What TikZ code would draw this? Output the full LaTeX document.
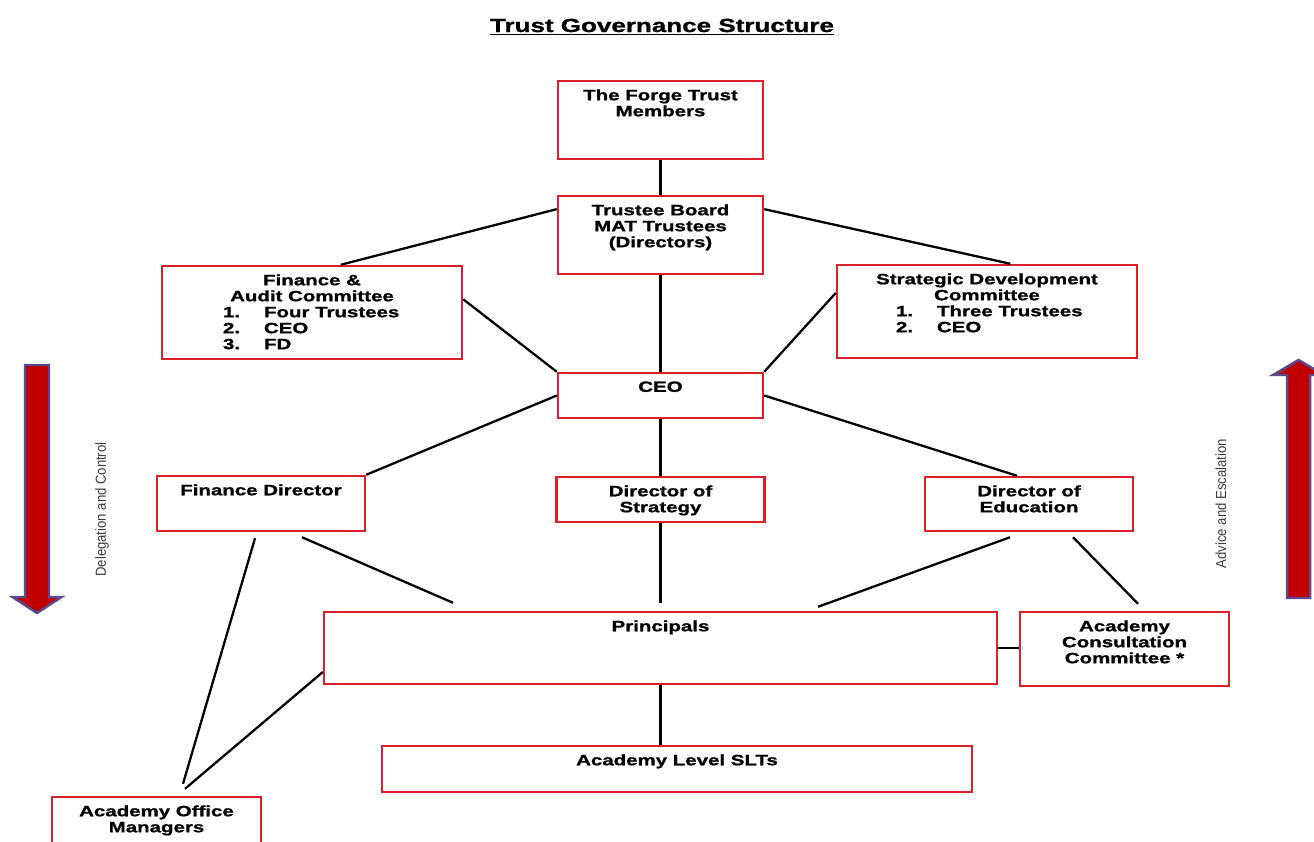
\documentclass[tikz,border=0pt]{standalone}
\usepackage{fontspec}
\usepackage{tikz}
\usetikzlibrary{positioning}
\newfontfamily\boxfont[FakeStretch=1.37,FakeBold=1.2]{Liberation Sans}
\newfontfamily\sidefont[FakeStretch=0.9]{Liberation Sans}
\definecolor{boxred}{RGB}{218,32,40}
\definecolor{arrowred}{RGB}{192,0,0}
\definecolor{arrowedge}{RGB}{92,72,140}
\definecolor{sidegray}{RGB}{60,60,60}
% one numbered row of a committee list
\newcommand{\listrow}[3]{\makebox[#1][l]{\makebox[0.82cm][l]{#2}#3}}

\begin{document}
\begin{tikzpicture}[line width=1.3pt]
	\def \colmid{13.21}
	\tikzstyle{box}=[rectangle,draw=boxred,line width=1.4pt,inner sep=0pt]
	\tikzstyle{boxtext}=[inner sep=0pt,align=center,font=\boxfont\bfseries\fontsize{8.5}{9.1}\selectfont]
	\tikzstyle{link}=[draw=black,line width=1.3pt]
	\tikzstyle{bigarrow}=[fill=arrowred,draw=arrowedge,line width=1.4pt,line join=miter]
	\tikzstyle{sidetext}=[rotate=90,inner sep=0pt,text=sidegray,font=\sidefont\fontsize{8.3}{9}\selectfont]
	\useasboundingbox (0,0) rectangle (26.28,-16.82);
	\clip (0,0) rectangle (26.28,-16.82);

	% title
	\node[inner sep=0pt,anchor=base,font=\boxfont\bfseries\fontsize{10.8}{12}\selectfont] (title) at (13.24,-0.64) {\underline{Trust Governance Structure}};

	% top of the trust
	\node[box,minimum width=4.10cm,minimum height=1.56cm] (members)  at (\colmid,-2.40) {};
	\node[box,minimum width=4.10cm,minimum height=1.56cm] (trustee)  at (\colmid,-4.70) {};
	\node[box,minimum width=6.00cm,minimum height=1.86cm] (fa)       at (6.24,-6.25)    {};
	\node[box,minimum width=6.00cm,minimum height=1.86cm] (sd)       at (19.74,-6.23)   {};
	\node[box,minimum width=4.10cm,minimum height=0.90cm] (ceo)      at (\colmid,-7.91) {};

	% directors
	\node[box,minimum width=4.16cm,minimum height=1.10cm] (fd)       at (5.22,-10.07)   {};
	\node[box,minimum width=4.16cm,minimum height=0.90cm] (dos)      at (\colmid,-9.99) {};
	\node[box,minimum width=4.16cm,minimum height=1.08cm] (doe)      at (20.58,-10.08)  {};

	% academies
	\node[box,minimum width=13.46cm,minimum height=1.44cm] (principals) at (\colmid,-12.96) {};
	\node[box,minimum width=4.18cm,minimum height=1.48cm]  (acc)        at (22.49,-12.98)   {};
	\node[box,minimum width=11.80cm,minimum height=0.92cm] (slt)        at (13.54,-15.38)   {};
	\node[box,minimum width=4.18cm,minimum height=1.06cm]  (aom)        at (3.13,-16.47)    {};

	% box labels
	\node[boxtext,below=0.17cm of members.north]    (members-text)    {The Forge Trust\\Members};
	\node[boxtext,below=0.17cm of trustee.north]    (trustee-text)    {Trustee Board\\MAT Trustees\\(Directors)};
	\node[boxtext,below=0.17cm of fa.north]         (fa-text)         {Finance \&\\Audit Committee\\
		\listrow{3.56cm}{1.}{Four Trustees}\\\listrow{3.56cm}{2.}{CEO}\\\listrow{3.56cm}{3.}{FD}};
	\node[boxtext,below=0.17cm of sd.north]         (sd-text)         {Strategic Development\\Committee\\
		\listrow{3.64cm}{1.}{Three Trustees}\\\listrow{3.64cm}{2.}{CEO}};
	\node[boxtext,below=0.17cm of ceo.north]        (ceo-text)        {CEO};
	\node[boxtext,below=0.17cm of fd.north]         (fd-text)         {Finance Director};
	\node[boxtext,below=0.17cm of dos.north]        (dos-text)        {Director of\\Strategy};
	\node[boxtext,below=0.17cm of doe.north]        (doe-text)        {Director of\\Education};
	\node[boxtext,below=0.17cm of principals.north] (principals-text) {Principals};
	\node[boxtext,below=0.17cm of acc.north]        (acc-text)        {Academy\\Consultation\\Committee *};
	\node[boxtext,below=0.17cm of slt.north]        (slt-text)        {Academy Level SLTs};
	\node[boxtext,below=0.17cm of aom.north]        (aom-text)        {Academy Office\\Managers};

	% connectors
	\draw[link] (members.south) -- (trustee.north);
	\draw[link] (trustee.166) -- (fa.59);
	\draw[link] (trustee.14) -- (sd.64);
	\draw[link] (trustee.south) -- (ceo.north);
	\draw[link] (fa.5) -- (ceo.north west);
	\draw[link] (sd.173) -- (ceo.north east);
	\draw[link] (ceo.west) -- (fd.north east);
	\draw[link] (ceo.south) -- (dos.north);
	\draw[link] (ceo.east) -- ([xshift=-0.24cm]doe.north);
	\draw[link] ([xshift=0.82cm,yshift=-0.1cm]fd.south) -- ([xshift=-4.15cm,yshift=0.16cm]principals.north);
	\draw[link] ([xshift=-0.12cm,yshift=-0.12cm]fd.south) -- ([xshift=0.53cm,yshift=0.24cm]aom.north);
	\draw[link] ([yshift=-0.48cm]principals.west) -- ([xshift=0.57cm,yshift=0.14cm]aom.north);
	\draw[link,shorten >=0.16cm] (dos.south) -- (principals.north);
	\draw[link] ([xshift=-0.38cm,yshift=-0.1cm]doe.south) -- ([xshift=3.15cm,yshift=0.08cm]principals.north);
	\draw[link] ([xshift=0.88cm,yshift=-0.1cm]doe.south) -- ([xshift=0.27cm,yshift=0.14cm]acc.north);
	\draw[link] (principals.east) -- (principals.east -| acc.west);
	\draw[link] (principals.south) -- (principals.south |- slt.north);

	% side arrows
	\draw[bigarrow] (0.50,-7.30) -- (0.98,-7.30) -- (0.98,-11.94) -- (1.23,-11.94) -- (0.74,-12.26) -- (0.25,-11.94) -- (0.50,-11.94) -- cycle;
	\draw[bigarrow] (25.74,-11.96) -- (26.20,-11.96) -- (26.20,-7.50) -- (26.48,-7.50) -- (25.97,-7.20) -- (25.46,-7.50) -- (25.74,-7.50) -- cycle;
	\node[sidetext] (delegation) at (2.04,-10.19) {Delegation and Control};
	\node[sidetext] (advice)     at (24.42,-10.07) {Advice and Escalation};
\end{tikzpicture}
\end{document}
